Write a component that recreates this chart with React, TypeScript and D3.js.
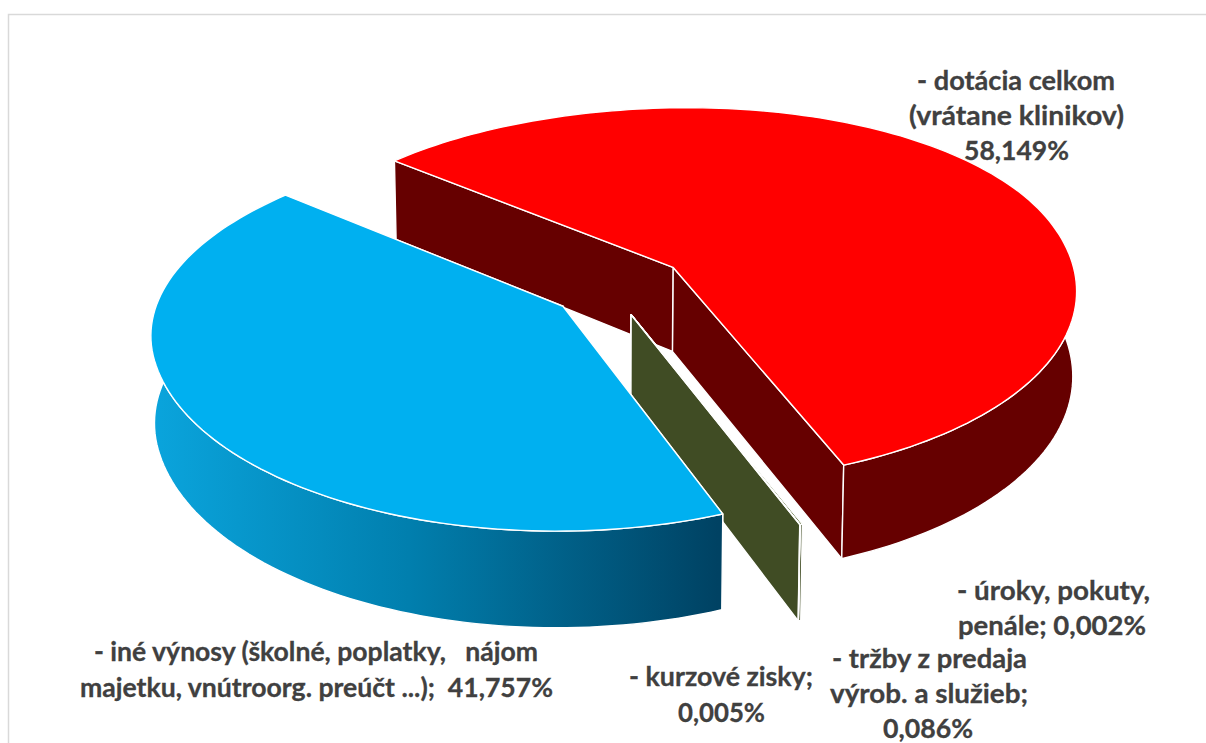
import React from "react";
import * as d3 from "d3";

const categories = ["dotácia celkom", "tržby z predaja", "úroky, pokuty", "kurzové zisky", "iné výnosy"];
const shares = [58.149, 0.086, 0.002, 0.005, 41.757];
const topColors = ["#ff0000", "#4f6228", "#4f6228", "#4f6228", "#00b0f0"];
const wallColors = ["#660000", "#404c24", "#404c24", "#404c24", "url(#blueWall)"];
const explodes = [0.172, 0.144, 0.144, 0.144, 0.165];
const explodeTurns = [0, 8, 8, 8, 0];

const labelLines = [
  { x: 1016, y: 90, w: 198, t: "- dotácia celkom" },
  { x: 1016.5, y: 125, w: 215, t: "(vrátane klinikov)" },
  { x: 1016.5, y: 160, w: 105, t: "58,149%" },
  { x: 1053.5, y: 600, w: 193, t: "- úroky, pokuty," },
  { x: 1052, y: 635, w: 188, t: "penále; 0,002%" },
  { x: 929.5, y: 668, w: 195, t: "- tržby z predaja" },
  { x: 929, y: 703, w: 198, t: "výrob. a služieb;" },
  { x: 928, y: 738, w: 90, t: "0,086%" },
  { x: 721, y: 686, w: 184, t: "- kurzové zisky;" },
  { x: 721.5, y: 722, w: 87, t: "0,005%" },
  { x: 316, y: 661, w: 444, t: "- iné výnosy (školné, poplatky,   nájom" },
  { x: 316.5, y: 697, w: 473, t: "majetku, vnútroorg. preúčt ...);  41,757%" },
];

const rad = (deg: number) => (deg * Math.PI) / 180;
const START = rad(-51);
const DENT_AT = rad(-15);
const CX = 617.5, CY = 287, R = 405, TILT = 0.483, PERSP = 0.11, DEPTH = 85, VX = 600, BOTTOM_SCALE = 0.992, DENT = 0.09;

function project(u: number, v: number, z: number): [number, number] {
  const s = 1 / (1 + PERSP * v);
  const x = CX + R * u * s;
  const y = CY - R * TILT * v * s + z * DEPTH * s;
  return [z ? VX + (x - VX) * BOTTOM_SCALE : x, y];
}

// The disc in the picture is flatter along its far edge than a true ellipse.
const radiusAt = (t: number) => 1 - DENT * Math.pow(Math.max(0, Math.cos(t - DENT_AT)), 2);

const line = d3.line();

export default function App() {
  const arcs = d3.pie<number>().sort(null).startAngle(START).endAngle(START + 2 * Math.PI)(shares);
  const shapes = arcs.map((a, i) => {
    const mid = (a.startAngle + a.endAngle) / 2 + rad(explodeTurns[i]);
    const ox = Math.sin(mid) * explodes[i];
    const oy = Math.cos(mid) * explodes[i];
    const n = Math.max(2, Math.ceil((a.endAngle - a.startAngle) * 40));
    const thetas = d3.range(n + 1).map((k) => a.startAngle + ((a.endAngle - a.startAngle) * k) / n);
    const point = (t: number, z: number) =>
      project(ox + radiusAt(t) * Math.sin(t), oy + radiusAt(t) * Math.cos(t), z);
    const apex = (z: number) => project(ox, oy, z);
    const front = thetas.filter((t) => Math.cos(t) < 0.12);
    const first = thetas[0], last = thetas[n];
    return {
      key: categories[i],
      top: line([apex(0), ...thetas.map((t) => point(t, 0))])! + "Z",
      outer:
        line([...front.map((t) => point(t, 0)), ...[...front].reverse().map((t) => point(t, 1))])! + "Z",
      sideA: line([apex(0), point(first, 0), point(first, 1), apex(1)])! + "Z",
      sideB: line([apex(0), point(last, 0), point(last, 1), apex(1)])! + "Z",
      fill: topColors[i],
      wall: wallColors[i],
    };
  });
  const wallStyle = { stroke: "#ffffff", strokeWidth: 1.4, strokeLinejoin: "round" as const };
  return (
    <svg width={1206} height={743} style={{ position: "absolute", left: 0, top: 0, display: "block", background: "#fff" }}>
      <defs>
        <linearGradient id="blueWall" gradientUnits="userSpaceOnUse" x1={155} x2={718} y1={0} y2={0}>
          <stop offset="0" stopColor="#0aa4dc" />
          <stop offset="0.45" stopColor="#017fae" />
          <stop offset="1" stopColor="#004263" />
        </linearGradient>
      </defs>
      <path d="M8.5,743V14.5H1206" fill="none" stroke="#d9d9d9" strokeWidth={1.5} />
      {shapes.map((s) => (
        <g key={s.key}>
          <path d={s.sideB} fill={s.wall} {...wallStyle} />
          <path d={s.sideA} fill={s.wall} {...wallStyle} />
          <path d={s.outer} fill={s.wall} {...wallStyle} />
          <path d={s.top} fill={s.fill} {...wallStyle} />
        </g>
      ))}
      <g fontFamily="Lato" fontWeight={700} fontSize={27} fill="#404040" stroke="#404040" strokeWidth={0.3}>
        {labelLines.map((l, i) => (
          <text
            key={i}
            x={l.x - l.w / 2}
            y={l.y}
            textLength={l.w}
            lengthAdjust="spacingAndGlyphs"
            style={{ whiteSpace: "pre" }}
          >
            {l.t}
          </text>
        ))}
      </g>
    </svg>
  );
}
